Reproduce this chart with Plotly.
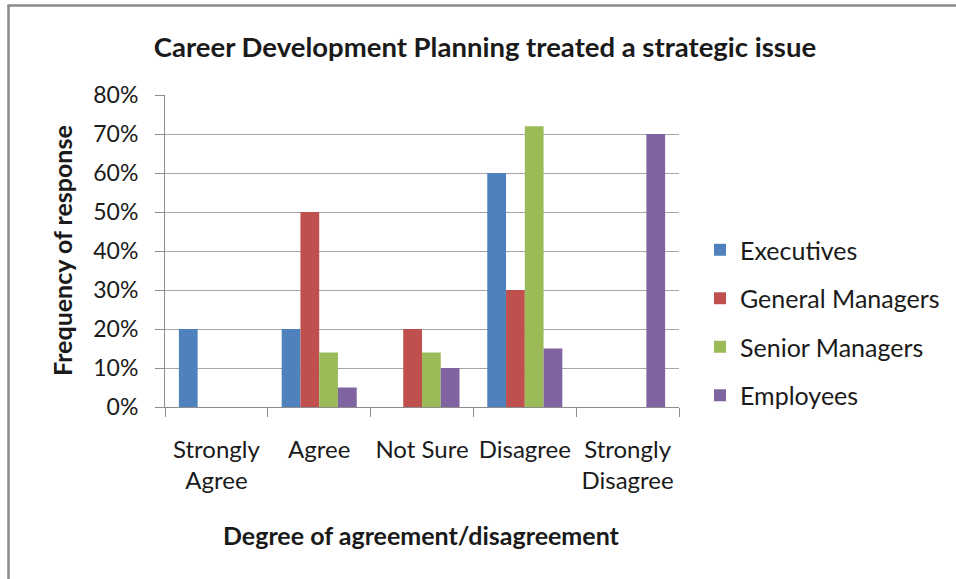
import plotly.graph_objects as go

categories = ["Strongly<br>Agree", "Agree", "Not Sure", "Disagree", "Strongly<br>Disagree"]
executives = [20, 20, 0, 60, 0]
general_managers = [0, 50, 20, 30, 0]
senior_managers = [0, 14, 14, 72, 0]
employees = [0, 5, 10, 15, 70]

series_names = ["Executives", "General Managers", "Senior Managers", "Employees"]
series_values = [executives, general_managers, senior_managers, employees]
colors = ["#4F81BD", "#C0504D", "#9BBB59", "#8064A2"]
y_ticks = [0, 10, 20, 30, 40, 50, 60, 70, 80]
y_tick_labels = ["0%", "10%", "20%", "30%", "40%", "50%", "60%", "70%", "80%"]

FONT = "Lato"
TXT = "#1a1a1a"
W, H = 956, 579
L, R, T, B = 165, 679, 95, 407


def px_to_paper_x(px):
    return (px - L) / (R - L)


def px_to_paper_y(py):
    return (B - py) / (B - T)


fig = go.Figure()
for i, (name, vals, col) in enumerate(zip(series_names, series_values, colors)):
    fig.add_trace(go.Bar(
        x=categories, y=vals, name=name,
        marker=dict(color=col, line=dict(width=0)),
        legendgroup=f"g{i}",
    ))

fig.update_layout(
    width=W, height=H,
    margin=dict(l=L, r=W - R, t=T, b=H - B, autoexpand=False),
    paper_bgcolor="white", plot_bgcolor="white",
    barmode="group", bargap=0.27, bargroupgap=0,
    font=dict(family=FONT, size=23, color=TXT),
    showlegend=True,
    legend=dict(
        x=px_to_paper_x(700), xanchor="left",
        y=px_to_paper_y(227), yanchor="top",
        font=dict(family=FONT, size=25, color=TXT),
        tracegroupgap=13, traceorder="grouped",
        itemwidth=30, bgcolor="rgba(0,0,0,0)",
    ),
    title=dict(
        text="<b>Career Development Planning treated a strategic issue</b>",
        x=485 / W, xref="container", xanchor="center",
        y=1 - 47 / H, yref="container", yanchor="middle",
        font=dict(family=FONT, size=27.5, color=TXT),
    ),
    xaxis=dict(
        type="category",
        showline=True, linecolor="#8c8c8c", linewidth=1,
        ticks="outside", tickson="boundaries", ticklen=9, tickcolor="#8c8c8c",
        showgrid=False, tickfont=dict(family=FONT, size=24, color=TXT),
        ticklabelstandoff=21,
    ),
    yaxis=dict(
        range=[0, 80], tickmode="array", tickvals=y_ticks, ticktext=y_tick_labels,
        showline=True, linecolor="#8c8c8c", linewidth=1,
        ticks="outside", ticklen=9, tickcolor="#8c8c8c",
        showgrid=True, gridcolor="#a6a6a6", gridwidth=1,
        zeroline=False,
        tickfont=dict(family=FONT, size=23, color=TXT),
        ticklabelstandoff=12,
    ),
    annotations=[
        dict(text="<b>Frequency of response</b>",
             x=px_to_paper_x(62), y=px_to_paper_y(251),
             xref="paper", yref="paper", xanchor="center", yanchor="middle",
             showarrow=False, textangle=-90,
             font=dict(family=FONT, size=25, color=TXT)),
        dict(text="<b>Degree of agreement/disagreement</b>",
             x=px_to_paper_x(421), y=px_to_paper_y(535),
             xref="paper", yref="paper", xanchor="center", yanchor="middle",
             showarrow=False,
             font=dict(family=FONT, size=25, color=TXT)),
    ],
    shapes=[
        dict(type="line", xref="paper", yref="paper",
             x0=px_to_paper_x(8.5), x1=px_to_paper_x(8.5),
             y0=px_to_paper_y(5), y1=px_to_paper_y(H + 5),
             line=dict(color="#8a8a8a", width=2.5)),
        dict(type="line", xref="paper", yref="paper",
             x0=px_to_paper_x(7.5), x1=px_to_paper_x(W + 5),
             y0=px_to_paper_y(5.5), y1=px_to_paper_y(5.5),
             line=dict(color="#8a8a8a", width=2.5)),
    ],
)

fig.write_html(
    "out.html",
    config={"displayModeBar": False},
    post_script="document.body.style.margin='0';document.body.style.overflow='hidden';",
)
